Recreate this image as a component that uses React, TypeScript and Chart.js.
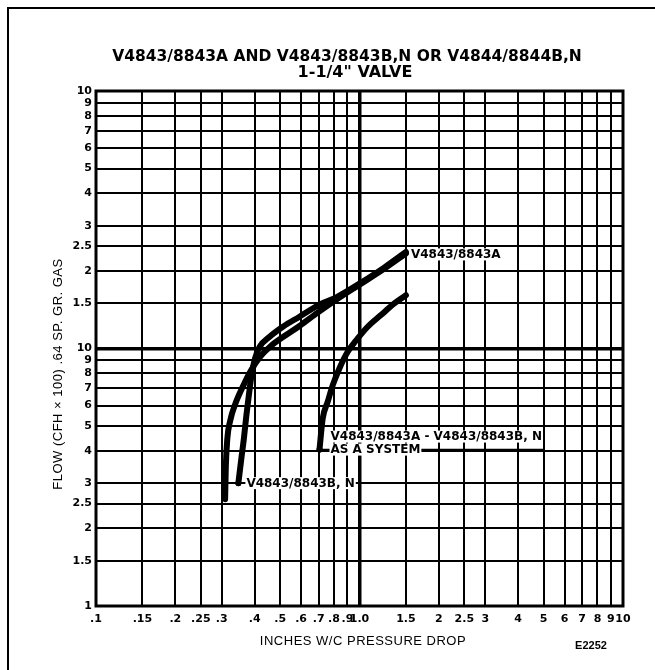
import React, { useEffect, useRef } from "react";
import { Chart, registerables } from "chart.js";

Chart.register(...registerables);

// ---- Data ----
const X_TICKS = [0.1, 0.15, 0.2, 0.25, 0.3, 0.4, 0.5, 0.6, 0.7, 0.8, 0.9, 1, 1.5, 2, 2.5, 3, 4, 5, 6, 7, 8, 9, 10];
const X_TICK_LABELS = [".1", ".15", ".2", ".25", ".3", ".4", ".5", ".6", ".7", ".8", ".9", "1.0", "1.5", "2", "2.5", "3", "4", "5", "6", "7", "8", "9", "10"];
const Y_TICKS = [1, 1.5, 2, 2.5, 3, 4, 5, 6, 7, 8, 9, 10, 15, 20, 25, 30, 40, 50, 60, 70, 80, 90, 100];
const Y_TICK_LABELS = ["1", "1.5", "2", "2.5", "3", "4", "5", "6", "7", "8", "9", "10", "1.5", "2", "2.5", "3", "4", "5", "6", "7", "8", "9", "10"];

// V4843/8843A
const A_DROP = [0.309, 0.311, 0.315, 0.323, 0.338, 0.359, 0.385, 0.42, 0.462, 0.521, 0.594, 0.694, 0.826, 1.0, 1.24, 1.5];
const A_FLOW = [2.6, 3.5, 4.46, 5.24, 6.1, 7.04, 8.13, 9.29, 10.25, 11.2, 12.26, 13.78, 15.6, 17.7, 20.4, 23.4];
// V4843/8843B, N
const BN_DROP = [0.347, 0.356, 0.364, 0.372, 0.38, 0.389, 0.401, 0.418, 0.456, 0.512, 0.592, 0.694, 0.826, 1.0, 1.24, 1.5];
const BN_FLOW = [3.0, 3.73, 4.46, 5.48, 6.55, 7.84, 9.13, 10.16, 11.11, 12.15, 13.29, 14.67, 15.9, 17.86, 20.6, 23.7];
// V4843/8843A - V4843/8843B, N as a system
const SYS_DROP = [0.705, 0.725, 0.757, 0.791, 0.838, 0.901, 0.983, 1.072, 1.203, 1.352, 1.5];
const SYS_FLOW = [4.05, 5.34, 6.2, 7.19, 8.35, 9.69, 10.92, 12.12, 13.45, 14.94, 16.1];

const TITLE_1 = "V4843/8843A AND V4843/8843B,N OR V4844/8844B,N";
const TITLE_2 = "1-1/4\" VALVE";
const X_TITLE = "INCHES W/C PRESSURE DROP";
const Y_TITLE = "FLOW (CFH \u00d7 100) .64 SP. GR. GAS";
const FIG_ID = "E2252";
const LABEL_A = "V4843/8843A";
const LABEL_BN = "V4843/8843B, N";
const LABEL_SYS_1 = "V4843/8843A - V4843/8843B, N";
const LABEL_SYS_2 = "AS A SYSTEM";

const W = 655;
const H = 670;
const PLOT = { left: 96, right: 623, top: 91, bottom: 606 };
const LABEL_FONT = 'bold 12px "DejaVu Sans"';
const TICK_FONT = { family: '"DejaVu Sans"', size: 11, weight: "bold" as const };

function boxText(ctx: CanvasRenderingContext2D, text: string, x: number, y: number) {
  ctx.font = LABEL_FONT;
  const w = ctx.measureText(text).width;
  ctx.fillStyle = "#fff";
  ctx.fillRect(x - 1, y - 6, w + 2, 12);
  ctx.fillStyle = "#000";
  ctx.textAlign = "left";
  ctx.textBaseline = "middle";
  ctx.fillText(text, x, y + 0.5);
  return w;
}

const decorPlugin = {
  id: "decor",
  afterDatasetsDraw(chart: any) {
    const ctx: CanvasRenderingContext2D = chart.ctx;
    const xs = chart.scales.x;
    const ys = chart.scales.y;
    const ca = chart.chartArea;
    ctx.save();
    // plot frame
    ctx.strokeStyle = "#000";
    ctx.lineWidth = 3;
    ctx.strokeRect(ca.left, ca.top, ca.right - ca.left, ca.bottom - ca.top);

    // label at end of A curve
    const ax = xs.getPixelForValue(A_DROP[A_DROP.length - 1]);
    const ay = ys.getPixelForValue(A_FLOW[A_FLOW.length - 1]);
    boxText(ctx, LABEL_A, ax + 5, ay + 1);

    // label at start of B,N curve with leader
    const bx = xs.getPixelForValue(BN_DROP[0]);
    const by = ys.getPixelForValue(BN_FLOW[0]);
    ctx.font = LABEL_FONT;
    const bw = ctx.measureText(LABEL_BN).width;
    ctx.lineWidth = 1.5;
    ctx.beginPath();
    ctx.moveTo(bx, by);
    ctx.lineTo(bx + 8 + bw + 5, by);
    ctx.stroke();
    ctx.beginPath();
    ctx.arc(bx, by, 3, 0, Math.PI * 2);
    ctx.fillStyle = "#000";
    ctx.fill();
    boxText(ctx, LABEL_BN, bx + 8, by);

    // label at start of system curve
    const sx = xs.getPixelForValue(SYS_DROP[0]);
    const sy = ys.getPixelForValue(SYS_FLOW[0]);
    ctx.font = LABEL_FONT;
    const sw = ctx.measureText(LABEL_SYS_1).width;
    ctx.lineWidth = 1.5;
    ctx.beginPath();
    ctx.moveTo(sx, sy);
    ctx.lineTo(sx + 11 + sw + 3, sy);
    ctx.stroke();
    ctx.beginPath();
    ctx.arc(sx, sy, 3, 0, Math.PI * 2);
    ctx.fillStyle = "#000";
    ctx.fill();
    boxText(ctx, LABEL_SYS_1, sx + 11, sy - 13);
    boxText(ctx, LABEL_SYS_2, sx + 11, sy);
    ctx.restore();
  },
  afterDraw(chart: any) {
    const ctx: CanvasRenderingContext2D = chart.ctx;
    ctx.save();
    ctx.fillStyle = "#000";
    // outer page frame (top + left)
    ctx.fillRect(7, 7, W - 7, 2);
    ctx.fillRect(7, 7, 2, H - 7);

    // title
    ctx.font = 'bold 15.5px "DejaVu Sans"';
    ctx.textAlign = "center";
    ctx.textBaseline = "middle";
    ctx.fillText(TITLE_1, 347, 57);
    ctx.font = 'bold 16px "DejaVu Sans"';
    ctx.fillText(TITLE_2, 355, 73);

    // axis titles
    (ctx as any).letterSpacing = "0.5px";
    ctx.font = '13px "Liberation Sans"';
    ctx.fillText(X_TITLE, 363, 641);
    ctx.save();
    ctx.translate(58, 374);
    ctx.rotate(-Math.PI / 2);
    ctx.fillText(Y_TITLE, 0, 0);
    ctx.restore();
    (ctx as any).letterSpacing = "0px";

    ctx.font = 'bold 11px "Liberation Sans"';
    ctx.fillText(FIG_ID, 591, 646);
    ctx.restore();
  },
};

export default function App() {
  const ref = useRef<HTMLCanvasElement | null>(null);
  useEffect(() => {
    if (!ref.current) return;
    const line = (xs: number[], ys: number[]) => xs.map((x, i) => ({ x, y: ys[i] }));
    const chart = new Chart(ref.current, {
      type: "line",
      data: {
        datasets: [
          { label: LABEL_A, data: line(A_DROP, A_FLOW) },
          { label: LABEL_BN, data: line(BN_DROP, BN_FLOW) },
          { label: LABEL_SYS_1, data: line(SYS_DROP, SYS_FLOW) },
        ],
      },
      options: {
        animation: false,
        responsive: false,
        maintainAspectRatio: false,
        layout: { padding: { top: PLOT.top, right: W - PLOT.right, left: 0, bottom: 0 } },
        plugins: { legend: { display: false }, tooltip: { enabled: false }, title: { display: false } },
        elements: {
          point: { radius: 0, hoverRadius: 0 },
          line: {
            borderWidth: 6,
            borderColor: "#000",
            borderCapStyle: "round",
            borderJoinStyle: "round",
            cubicInterpolationMode: "monotone",
            fill: false,
          },
        },
        scales: {
          x: {
            type: "logarithmic",
            position: "bottom",
            min: 0.1,
            max: 10,
            afterBuildTicks: (s: any) => {
              s.ticks = X_TICKS.map((v) => ({ value: v }));
            },
            afterFit: (s: any) => {
              s.height = H - PLOT.bottom;
            },
            ticks: {
              autoSkip: false,
              maxRotation: 0,
              minRotation: 0,
              padding: 7,
              color: "#000",
              font: TICK_FONT,
              callback: (_v: any, i: number) => X_TICK_LABELS[i],
            },
            grid: {
              color: "#000",
              lineWidth: (c: any) => (c.tick && c.tick.value === 1 ? 3.5 : 2),
              drawTicks: false,
            },
            border: { display: false },
          },
          y: {
            type: "logarithmic",
            position: "left",
            min: 1,
            max: 100,
            afterBuildTicks: (s: any) => {
              s.ticks = Y_TICKS.map((v) => ({ value: v }));
            },
            afterFit: (s: any) => {
              s.width = PLOT.left;
            },
            ticks: {
              autoSkip: false,
              padding: 4,
              color: "#000",
              font: TICK_FONT,
              callback: (_v: any, i: number) => Y_TICK_LABELS[i],
            },
            grid: {
              color: "#000",
              lineWidth: (c: any) => (c.tick && c.tick.value === 10 ? 3.5 : 2),
              drawTicks: false,
            },
            border: { display: false },
          },
        },
      },
      plugins: [decorPlugin],
    } as any);
    return () => chart.destroy();
  }, []);

  return (
    <div style={{ position: "absolute", left: 0, top: 0, width: W, height: H, background: "#fff" }}>
      <canvas ref={ref} width={W} height={H} style={{ width: W, height: H, display: "block" }} />
    </div>
  );
}
